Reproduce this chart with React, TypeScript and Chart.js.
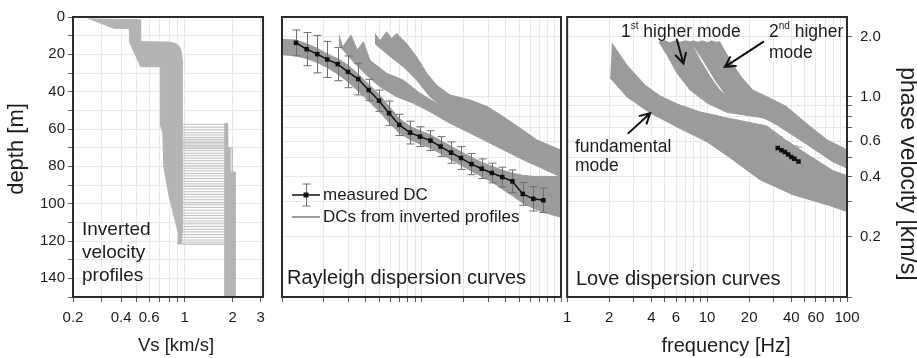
import React, { useEffect, useRef } from 'react';
import { Chart, registerables } from 'chart.js';

Chart.register(...registerables);

const FONT = '"Liberation Sans", Arial, Helvetica, sans-serif';
const TEXT_COLOR = '#1c1c1c';
const GRID_COLOR = '#e8e8e8';
const TICK_COLOR = '#5a5a5a';
const FRAME_COLOR = '#2a2a2a';
const PROFILE_GRAY = '#b4b4b4';
const PROFILE_LINE_GRAY = '#bdbdbd';
const BAND_GRAY = '#9b9b9b';

// ---------------- axes ----------------
const depthTickValues = [0, 10, 20, 30, 40, 50, 60, 70, 80, 90, 100, 110, 120, 130, 140, 150];
const depthTickLabels = [0, 20, 40, 60, 80, 100, 120, 140];
const vsTickValues = [0.2, 0.3, 0.4, 0.5, 0.6, 0.7, 0.8, 0.9, 1, 2, 3];
const vsTickLabels = [0.2, 0.4, 0.6, 1, 2, 3];
const freqTickValues = [1, 2, 3, 4, 5, 6, 7, 8, 9, 10, 20, 30, 40, 50, 60, 70, 80, 90, 100];
const freqTickLabels = [1, 2, 4, 6, 10, 20, 40, 60, 100];
const velTickValues = [0.1, 0.2, 0.3, 0.4, 0.5, 0.6, 0.7, 0.8, 0.9, 1, 2];
const velTickLabels = [0.2, 0.4, 0.6, 1, 2];

// ---------------- left panel: inverted velocity profiles [Vs km/s, depth m] ----------------
const profileBandOutline: [number, number][] = [
  [0.249, 1.0], [0.53, 1.5], [0.53, 13.2], [0.8, 13.4], [0.88, 14.2], [0.93, 16], [0.955, 19],
  [0.965, 23], [0.965, 116], [0.955, 121.6], [0.906, 121.6], [0.914, 116], [0.8, 96], [0.74, 80],
  [0.73, 62], [0.706, 58], [0.706, 26.6], [0.53, 26.6], [0.451, 13.2], [0.451, 6.1], [0.356, 6.1],
];
const halfspaceOutline: [number, number][] = [
  [1.77, 57], [1.86, 57], [1.86, 70], [1.92, 70], [1.92, 83], [2.07, 83], [2.07, 150], [1.77, 150],
];
const halfspaceStepLine: [number, number][] = [[1.86, 70], [1.99, 70], [1.99, 84]];
const interfaceDepths = [
  57.5, 59, 60.5, 62, 63.2, 64.5, 65.5, 66.4, 67.2, 68, 68.8, 69.6, 70.5, 71.6, 73, 74.3, 75.6,
  77, 78.4, 79.7, 81, 82.4, 83.8, 85.1, 86.5, 88, 89.4, 90.7, 92.1, 93.6, 95, 96.4, 97.9, 99.3,
  100.6, 102, 103.5, 105, 106.4, 107.8, 109.3, 110.8, 112.2, 113.7, 115.1, 116.6, 118, 119.5, 121, 121.8,
];
const interfaceVsRange = [0.96, 1.8];

// ---------------- middle panel: Rayleigh [f Hz, v km/s] ----------------
const rayleighFreq = [1.26, 1.5, 1.79, 2.11, 2.51, 2.97, 3.52, 4.18, 4.96, 5.85, 6.93, 8.27, 9.76, 11.6, 13.7, 16.3, 19.2, 22.8, 27.0, 31.9, 37.9, 44.8, 53.2, 63.3, 74.7];
const rayleighVel = [1.857, 1.727, 1.631, 1.535, 1.454, 1.331, 1.225, 1.08, 0.955, 0.827, 0.723, 0.662, 0.632, 0.604, 0.564, 0.526, 0.494, 0.461, 0.437, 0.416, 0.397, 0.378, 0.327, 0.309, 0.304];
const rayleighErrPct = [16, 21, 24, 23, 21, 20, 20, 13, 13, 15, 13, 14, 12, 12, 12, 13, 14, 13, 12, 12, 12, 14, 14, 15, 15];

const rayleighFundUpper: [number, number][] = [
  [1.0, 1.93], [1.26, 1.92], [1.5, 1.84], [1.8, 1.74], [2.1, 1.64], [2.5, 1.55], [3.0, 1.43], [3.5, 1.3],
  [4.2, 1.15], [5.0, 1.02], [5.9, 0.89], [6.9, 0.78], [8.3, 0.71], [9.8, 0.675], [11.6, 0.645],
  [13.7, 0.605], [16.3, 0.565], [19.2, 0.53], [22.8, 0.5], [27, 0.47], [32, 0.45], [38, 0.43],
  [45, 0.415], [53, 0.405], [63, 0.4], [75, 0.4], [100, 0.4],
];
const rayleighFundLower: [number, number][] = [
  [100, 0.25], [85, 0.258], [75, 0.265], [63, 0.278], [53, 0.295], [45, 0.32], [38, 0.345], [32, 0.375],
  [27, 0.4], [22.8, 0.425], [19.2, 0.455], [16.3, 0.485], [13.7, 0.52], [11.6, 0.555], [9.8, 0.58],
  [8.3, 0.61], [6.9, 0.66], [5.9, 0.74], [5.0, 0.84], [4.2, 0.95], [3.5, 1.07], [3.0, 1.18], [2.5, 1.3],
  [2.1, 1.4], [1.8, 1.48], [1.5, 1.55], [1.26, 1.6], [1.0, 1.62],
];
const rayleighHigherAUpper: [number, number][] = [
  [2.56, 2.03], [2.72, 1.77], [3.12, 2.03], [3.47, 1.71], [3.83, 1.88], [4.27, 1.52], [5.63, 1.31],
  [7.41, 1.21], [9.76, 1.04], [12.85, 0.927], [15.1, 0.876], [17.9, 0.85], [29.3, 0.8], [50.8, 0.66], [98, 0.52],
];
const rayleighHigherALower: [number, number][] = [
  [98, 0.4], [53.7, 0.484], [34.6, 0.564], [22.3, 0.658], [16.0, 0.737], [11.5, 0.842], [8.74, 0.927],
  [6.64, 1.0], [5.04, 1.12], [4.05, 1.28], [3.25, 1.49], [2.56, 1.81],
];
const rayleighHigherBUpper: [number, number][] = [
  [4.64, 2.07], [5.04, 1.9], [5.63, 2.11], [6.11, 1.95], [6.64, 2.07], [7.83, 1.84], [9.24, 1.58],
  [10.9, 1.31], [12.85, 1.14], [16.0, 1.02], [22.3, 0.963], [29.3, 0.895], [38.6, 0.795], [50.8, 0.697],
  [67, 0.609], [98.4, 0.543],
];
const rayleighHigherBLower: [number, number][] = [
  [98.4, 0.48], [38.6, 0.62], [22.3, 0.737], [15.1, 0.859], [11.5, 1.0], [9.24, 1.21], [7.41, 1.41],
  [5.63, 1.64], [4.64, 1.84],
];

// ---------------- right panel: Love [f Hz, v km/s] ----------------
const loveFreq = [32, 34, 36, 38, 40, 42, 45];
const loveVel = [0.555, 0.54, 0.53, 0.515, 0.5, 0.49, 0.475];
const loveErrPct = [14, 12, 12, 12, 14, 16, 18];

const loveFundUpper: [number, number][] = [
  [2.09, 1.85], [2.67, 1.44], [3.61, 1.14], [4.62, 1.008], [6.1, 0.92], [8.92, 0.839], [13.9, 0.783],
  [26.7, 0.715], [35, 0.62], [46.3, 0.543], [79.4, 0.427], [100, 0.404],
];
const loveFundLower: [number, number][] = [
  [100, 0.267], [71.9, 0.289], [41.1, 0.324], [23.9, 0.385], [15.3, 0.484], [10, 0.595], [6.1, 0.706],
  [3.92, 0.83], [2.68, 0.997], [2.03, 1.24],
];
const loveHigher1Upper: [number, number][] = [
  [4.54, 1.88], [5.0, 1.9], [5.4, 1.86], [5.9, 1.9], [6.4, 1.87], [7.0, 1.9], [7.6, 1.88], [7.98, 1.9],
  [7.98, 1.77], [8.92, 1.52], [10.5, 1.26], [12.3, 1.08], [13.9, 1.0], [26.7, 0.9], [50, 0.7], [100, 0.5],
];
const loveHigher1Lower: [number, number][] = [
  [100, 0.44], [79.4, 0.473], [46.3, 0.608], [26.7, 0.78], [13.9, 0.835], [10, 0.93], [7.56, 1.08],
  [6.1, 1.31], [5.18, 1.61], [4.54, 1.87],
];
const loveHigher2Upper: [number, number][] = [
  [7.98, 1.9], [8.6, 1.87], [9.3, 1.9], [10.0, 1.86], [10.8, 1.9], [11.5, 1.87], [12.3, 1.88],
  [14.6, 1.52], [17.5, 1.257], [21.2, 1.08], [26.7, 1.0], [36.7, 0.895], [54.5, 0.71], [71.9, 0.609], [100, 0.543],
];
const loveHigher2Lower: [number, number][] = [
  [100, 0.47], [60, 0.55], [35, 0.7], [20, 0.85], [13.9, 1.0], [11.5, 1.2], [9.5, 1.5], [8.2, 1.75], [7.98, 1.85],
];
const loveArrowFrom: [number, number][] = [[2.74, 0.658], [6.08, 1.93], [25.2, 1.88]];
const loveArrowTo: [number, number][] = [[3.92, 0.827], [6.77, 1.466], [13.4, 1.41]];

// ---------------- helpers ----------------
const pts = (arr: [number, number][]) => arr.map(([x, y]) => ({ x, y }));
const polygon = (upper: [number, number][], lower: [number, number][]) => pts([...upper, ...lower]);
const hasVal = (list: number[], v: number) => list.some((l) => Math.abs(l - v) < 1e-6 * Math.max(1, l));

function bandDataset(data: any[], color: string) {
  return {
    data,
    showLine: true,
    fill: 'shape',
    backgroundColor: color,
    borderColor: color,
    borderWidth: 1,
    pointRadius: 0,
    tension: 0,
  };
}

type Seg = { t: string; size: number; dy?: number };
type TextItem = { x: number; y: number; segs: Seg[]; align?: 'left' | 'center'; rotate?: number };

function textPlugin(id: string, offsetX: number, items: TextItem[]) {
  return {
    id,
    afterDraw(chart: any) {
      const ctx = chart.ctx as CanvasRenderingContext2D;
      ctx.save();
      ctx.fillStyle = TEXT_COLOR;
      ctx.textBaseline = 'middle';
      ctx.textAlign = 'left';
      for (const it of items) {
        let total = 0;
        for (const s of it.segs) {
          ctx.font = `${s.size}px ${FONT}`;
          total += ctx.measureText(s.t).width;
        }
        ctx.save();
        ctx.translate(it.x - offsetX, it.y);
        if (it.rotate) ctx.rotate(it.rotate);
        let x = it.align === 'center' ? -total / 2 : 0;
        for (const s of it.segs) {
          ctx.font = `${s.size}px ${FONT}`;
          ctx.fillText(s.t, x, s.dy || 0);
          x += ctx.measureText(s.t).width;
        }
        ctx.restore();
      }
      ctx.restore();
    },
  };
}

const framePlugin = {
  id: 'frame',
  afterDraw(chart: any) {
    const { ctx, chartArea: a } = chart;
    ctx.save();
    ctx.strokeStyle = FRAME_COLOR;
    ctx.lineWidth = 2;
    ctx.strokeRect(a.left, a.top, a.right - a.left, a.bottom - a.top);
    ctx.restore();
  },
};

function errorBarPlugin(id: string, dsIndex: number, errPct: number[], color: string) {
  return {
    id,
    beforeDatasetDraw(chart: any, args: any) {
      if (args.index !== dsIndex) return;
      const ctx = chart.ctx as CanvasRenderingContext2D;
      const ds = chart.data.datasets[dsIndex];
      const xs = chart.scales.x;
      const ys = chart.scales.y;
      ctx.save();
      ctx.strokeStyle = color;
      ctx.lineWidth = 1;
      ds.data.forEach((p: any, i: number) => {
        const e = errPct[i] / 100;
        const px = Math.round(xs.getPixelForValue(p.x)) + 0.5;
        const y1 = ys.getPixelForValue(p.y * (1 + e));
        const y2 = ys.getPixelForValue(p.y / (1 + e));
        ctx.beginPath();
        ctx.moveTo(px, y1);
        ctx.lineTo(px, y2);
        ctx.moveTo(px - 4, y1);
        ctx.lineTo(px + 4, y1);
        ctx.moveTo(px - 4, y2);
        ctx.lineTo(px + 4, y2);
        ctx.stroke();
      });
      ctx.restore();
    },
  };
}

const arrowPlugin = {
  id: 'arrows',
  afterDatasetsDraw(chart: any) {
    const ctx = chart.ctx as CanvasRenderingContext2D;
    const xs = chart.scales.x;
    const ys = chart.scales.y;
    ctx.save();
    ctx.strokeStyle = '#111';
    ctx.lineWidth = 2;
    ctx.lineCap = 'round';
    loveArrowFrom.forEach((from, i) => {
      const to = loveArrowTo[i];
      const x1 = xs.getPixelForValue(from[0]);
      const y1 = ys.getPixelForValue(from[1]);
      const x2 = xs.getPixelForValue(to[0]);
      const y2 = ys.getPixelForValue(to[1]);
      const ang = Math.atan2(y2 - y1, x2 - x1);
      const L = 11;
      ctx.beginPath();
      ctx.moveTo(x1, y1);
      ctx.lineTo(x2, y2);
      ctx.moveTo(x2 - L * Math.cos(ang - 0.5), y2 - L * Math.sin(ang - 0.5));
      ctx.lineTo(x2, y2);
      ctx.lineTo(x2 - L * Math.cos(ang + 0.5), y2 - L * Math.sin(ang + 0.5));
      ctx.stroke();
    });
    ctx.restore();
  },
};

function legendPlugin(offsetX: number) {
  return {
    id: 'dcLegend',
    afterDraw(chart: any) {
      const ctx = chart.ctx as CanvasRenderingContext2D;
      const x0 = 292 - offsetX;
      const x1 = 320 - offsetX;
      const xm = (x0 + x1) / 2;
      const yA = 195;
      const yB = 217;
      ctx.save();
      ctx.strokeStyle = '#6e6e6e';
      ctx.lineWidth = 1;
      ctx.beginPath();
      ctx.moveTo(xm + 0.5, yA - 11);
      ctx.lineTo(xm + 0.5, yA + 11);
      ctx.moveTo(xm - 3.5, yA - 11);
      ctx.lineTo(xm + 4.5, yA - 11);
      ctx.moveTo(xm - 3.5, yA + 11);
      ctx.lineTo(xm + 4.5, yA + 11);
      ctx.stroke();
      ctx.strokeStyle = '#111';
      ctx.lineWidth = 1.5;
      ctx.beginPath();
      ctx.moveTo(x0, yA);
      ctx.lineTo(x1, yA);
      ctx.stroke();
      ctx.fillStyle = '#111';
      ctx.fillRect(xm - 2.5, yA - 2.5, 5, 5);
      ctx.strokeStyle = BAND_GRAY;
      ctx.lineWidth = 2;
      ctx.beginPath();
      ctx.moveTo(x0, yB);
      ctx.lineTo(x1, yB);
      ctx.stroke();
      ctx.fillStyle = TEXT_COLOR;
      ctx.font = `17px ${FONT}`;
      ctx.textBaseline = 'middle';
      ctx.fillText('measured DC', 323 - offsetX, yA);
      ctx.fillText('DCs from inverted profiles', 323 - offsetX, yB);
      ctx.restore();
    },
  };
}

const tickFont = { family: FONT, size: 15 };

function gridOpts(drawTicks = true) {
  return { color: GRID_COLOR, tickColor: TICK_COLOR, tickLength: 5, drawTicks, lineWidth: 1 };
}

function logAxis(min: number, max: number, values: number[], extra: any) {
  return {
    type: 'logarithmic',
    min,
    max,
    bounds: 'data',
    afterBuildTicks: (s: any) => {
      s.ticks = values.map((v) => ({ value: v }));
    },
    border: { display: false },
    ...extra,
  };
}

const baseOptions = {
  animation: false,
  responsive: false,
  events: [],
  plugins: { legend: { display: false }, tooltip: { enabled: false } },
};

function leftConfig(): any {
  const linePts: any[] = [];
  interfaceDepths.forEach((d) => {
    linePts.push({ x: interfaceVsRange[0], y: d }, { x: interfaceVsRange[1], y: d }, { x: interfaceVsRange[1], y: null });
  });
  return {
    type: 'scatter',
    data: {
      datasets: [
        { data: linePts, showLine: true, fill: false, borderColor: PROFILE_LINE_GRAY, borderWidth: 1, pointRadius: 0, spanGaps: false },
        { data: pts(halfspaceStepLine), showLine: true, fill: false, borderColor: PROFILE_LINE_GRAY, borderWidth: 1, pointRadius: 0 },
        bandDataset(pts(profileBandOutline), PROFILE_GRAY),
        bandDataset(pts(halfspaceOutline), PROFILE_GRAY),
      ],
    },
    options: {
      ...baseOptions,
      layout: { padding: { top: 17, right: 6, left: 0, bottom: 0 } },
      scales: {
        x: logAxis(0.2, 3.1, vsTickValues, {
          position: 'bottom',
          grid: gridOpts(),
          ticks: {
            autoSkip: false, maxRotation: 0, font: tickFont, color: TEXT_COLOR, padding: 7,
            callback: (v: number) => (hasVal(vsTickLabels, v) ? String(v) : ''),
          },
          afterFit: (s: any) => { s.height = 61; },
        }),
        y: {
          type: 'linear', min: 0, max: 150, reverse: true, position: 'left',
          afterBuildTicks: (s: any) => { s.ticks = depthTickValues.map((v) => ({ value: v })); },
          border: { display: false },
          grid: gridOpts(),
          ticks: {
            autoSkip: false, font: tickFont, color: TEXT_COLOR, padding: 3,
            callback: (v: number) => (depthTickLabels.includes(v) ? String(v) : ''),
          },
          afterFit: (s: any) => { s.width = 73; },
        },
      },
    },
    plugins: [
      framePlugin,
      textPlugin('leftTexts', 0, [
        { x: 82, y: 230, segs: [{ t: 'Inverted', size: 19 }] },
        { x: 82, y: 253, segs: [{ t: 'velocity', size: 19 }] },
        { x: 82, y: 276, segs: [{ t: 'profiles', size: 19 }] },
        { x: 176, y: 346, align: 'center', segs: [{ t: 'Vs [km/s]', size: 18.5 }] },
        { x: 17, y: 149, align: 'center', rotate: -Math.PI / 2, segs: [{ t: 'depth [m]', size: 22 }] },
      ]),
    ],
  };
}

function middleConfig(): any {
  return {
    type: 'scatter',
    data: {
      datasets: [
        {
          data: rayleighFreq.map((f, i) => ({ x: f, y: rayleighVel[i] })),
          showLine: true, borderColor: '#111', borderWidth: 1.5, pointStyle: 'rect',
          pointRadius: 3.2, pointBackgroundColor: '#111', pointBorderWidth: 0, fill: false,
        },
        bandDataset(polygon(rayleighFundUpper, rayleighFundLower), BAND_GRAY),
        bandDataset(polygon(rayleighHigherAUpper, rayleighHigherALower), BAND_GRAY),
        bandDataset(polygon(rayleighHigherBUpper, rayleighHigherBLower), BAND_GRAY),
      ],
    },
    options: {
      ...baseOptions,
      layout: { padding: { top: 17, right: 5, left: 6, bottom: 0 } },
      scales: {
        x: logAxis(1, 100, freqTickValues, {
          position: 'bottom',
          grid: gridOpts(),
          ticks: { display: false, autoSkip: false },
          afterFit: (s: any) => { s.height = 61; },
        }),
        y: logAxis(0.1, 2.5, velTickValues, {
          position: 'left',
          grid: gridOpts(false),
          ticks: { display: false, autoSkip: false },
          afterFit: (s: any) => { s.width = 0; },
        }),
      },
    },
    plugins: [
      errorBarPlugin('rayErr', 0, rayleighErrPct, '#6e6e6e'),
      framePlugin,
      legendPlugin(276),
      textPlugin('midTexts', 276, [
        { x: 287, y: 278, segs: [{ t: 'Rayleigh dispersion curves', size: 20 }] },
      ]),
    ],
  };
}

function rightConfig(): any {
  return {
    type: 'scatter',
    data: {
      datasets: [
        {
          data: loveFreq.map((f, i) => ({ x: f, y: loveVel[i] })),
          showLine: true, borderColor: '#111', borderWidth: 1.5, pointStyle: 'rect',
          pointRadius: 3.2, pointBackgroundColor: '#111', pointBorderWidth: 0, fill: false,
        },
        bandDataset(polygon(loveFundUpper, loveFundLower), BAND_GRAY),
        bandDataset(polygon(loveHigher1Upper, loveHigher1Lower), BAND_GRAY),
        bandDataset(polygon(loveHigher2Upper, loveHigher2Lower), BAND_GRAY),
      ],
    },
    options: {
      ...baseOptions,
      layout: { padding: { top: 17, right: 0, left: 11, bottom: 0 } },
      scales: {
        x: logAxis(1, 100, freqTickValues, {
          position: 'bottom',
          grid: gridOpts(),
          ticks: {
            autoSkip: false, maxRotation: 0, font: tickFont, color: TEXT_COLOR, padding: 7,
            callback: (v: number) => (hasVal(freqTickLabels, v) ? String(v) : ''),
          },
          afterFit: (s: any) => { s.height = 61; },
        }),
        y: logAxis(0.1, 2.5, velTickValues, {
          position: 'right',
          grid: gridOpts(),
          ticks: {
            autoSkip: false, font: tickFont, color: TEXT_COLOR, padding: 8,
            callback: (v: number) => (hasVal(velTickLabels, v) ? v.toFixed(1) : ''),
          },
          afterFit: (s: any) => { s.width = 70; },
        }),
      },
    },
    plugins: [
      errorBarPlugin('loveErr', 0, loveErrPct, '#a0a0a0'),
      arrowPlugin,
      framePlugin,
      textPlugin('rightTexts', 556, [
        { x: 576, y: 279, segs: [{ t: 'Love dispersion curves', size: 20 }] },
        { x: 575, y: 147, segs: [{ t: 'fundamental', size: 17.5 }] },
        { x: 575, y: 166, segs: [{ t: 'mode', size: 17.5 }] },
        { x: 621, y: 32, segs: [{ t: '1', size: 17.5 }, { t: 'st', size: 10, dy: -6 }, { t: ' higher mode', size: 17.5 }] },
        { x: 769, y: 32, segs: [{ t: '2', size: 17.5 }, { t: 'nd', size: 10, dy: -6 }, { t: ' higher', size: 17.5 }] },
        { x: 769, y: 53, segs: [{ t: 'mode', size: 17.5 }] },
        { x: 726, y: 346, align: 'center', segs: [{ t: 'frequency [Hz]', size: 20 }] },
        { x: 907, y: 174, align: 'center', rotate: Math.PI / 2, segs: [{ t: 'phase velocity [km/s]', size: 23 }] },
      ]),
    ],
  };
}

export default function App() {
  const leftRef = useRef<HTMLCanvasElement>(null);
  const midRef = useRef<HTMLCanvasElement>(null);
  const rightRef = useRef<HTMLCanvasElement>(null);

  useEffect(() => {
    const charts = [
      new Chart(leftRef.current as HTMLCanvasElement, leftConfig()),
      new Chart(midRef.current as HTMLCanvasElement, middleConfig()),
      new Chart(rightRef.current as HTMLCanvasElement, rightConfig()),
    ];
    return () => charts.forEach((c) => c.destroy());
  }, []);

  return (
    <div style={{ position: 'absolute', left: 0, top: 0, width: 917, height: 358, background: '#fff', overflow: 'hidden' }}>
      <canvas ref={leftRef} width={272} height={358} style={{ position: 'absolute', left: 0, top: 0 }} />
      <canvas ref={midRef} width={290} height={358} style={{ position: 'absolute', left: 276, top: 0 }} />
      <canvas ref={rightRef} width={361} height={358} style={{ position: 'absolute', left: 556, top: 0 }} />
    </div>
  );
}
